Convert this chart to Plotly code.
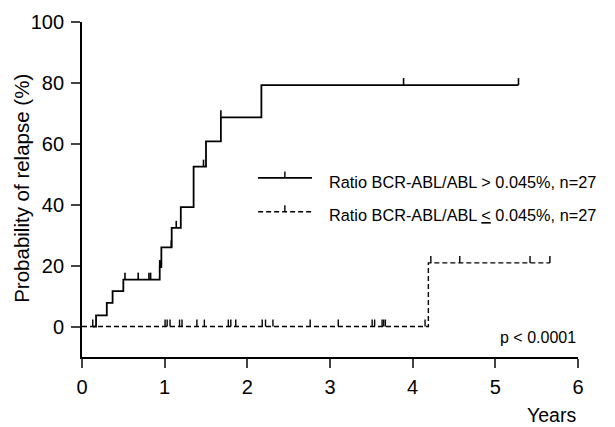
import numpy as np
import plotly.graph_objects as go

# ---- data ----
# high-ratio group (solid): step curve of cumulative relapse probability
high_t = [0.13, 0.17, 0.30, 0.37, 0.50, 0.94, 0.96, 1.085, 1.195, 1.35, 1.50, 1.68, 2.17, 5.28]
high_p = [0.0, 3.7, 7.8, 11.6, 15.4, 19.5, 26.0, 32.4, 39.2, 52.5, 60.8, 68.7, 79.3, 79.3]
high_censor = [0.52, 0.68, 0.81, 0.83, 0.94, 0.945, 1.08, 1.14, 1.47, 1.68, 3.89, 5.28]

# low-ratio group (dashed)
low_t = [0.0, 4.19, 5.66]
low_p = [0.0, 20.9, 20.9]
low_censor = [0.13, 1.005, 1.03, 1.065, 1.18, 1.21, 1.39, 1.48, 1.77, 1.80, 1.86,
              2.18, 2.22, 2.31, 2.76, 3.10, 3.51, 3.54, 3.63, 3.65, 3.67, 4.15,
              4.22, 4.57, 5.42, 5.66]

x_ticks = [0, 1, 2, 3, 4, 5, 6]
y_ticks = [0, 20, 40, 60, 80, 100]

label_high = "Ratio BCR-ABL/ABL > 0.045%, n=27"
label_low = "Ratio BCR-ABL/ABL <u>&lt;</u> 0.045%, n=27"
p_text = "p < 0.0001"

FONT = "Liberation Sans, Arial, sans-serif"
TICK_UP = 2.3  # censor tick height in data units


def level_at(ts, ps, t):
    idx = np.searchsorted(np.array(ts), np.array(t), side="right") - 1
    idx = np.clip(idx, 0, len(ps) - 1)
    return np.array(ps)[idx]


fig = go.Figure()

# curves
fig.add_trace(go.Scatter(x=high_t, y=high_p, mode="lines", line_shape="hv",
                         line=dict(color="black", width=1.8), showlegend=False,
                         hoverinfo="skip"))
fig.add_trace(go.Scatter(x=low_t, y=low_p, mode="lines", line_shape="hv",
                         line=dict(color="black", width=1.4, dash="5px,3px"),
                         showlegend=False, hoverinfo="skip"))

# censor ticks (upward ticks via error bars)
for ts, ps, cens, w in [(high_t, high_p, high_censor, 1.6), (low_t, low_p, low_censor, 1.4)]:
    lv = level_at(ts, ps, cens)
    fig.add_trace(go.Scatter(
        x=cens, y=lv, mode="markers", marker=dict(size=1, color="rgba(0,0,0,0)"),
        error_y=dict(type="data", symmetric=False, array=[TICK_UP] * len(cens),
                     arrayminus=[0] * len(cens), width=0, thickness=w, color="black"),
        showlegend=False, hoverinfo="skip"))

# ---- manual legend (paper coordinates) ----
shapes = []
annotations = []
legend_rows = [(0.535, 0.523, "solid", label_high, 1.8),
               (0.4337, 0.423, "5px,3px", label_low, 1.4)]
for ly, ty, dash, txt, lw in legend_rows:
    shapes.append(dict(type="line", xref="paper", yref="paper", x0=0.355, x1=0.4637,
                       y0=ly, y1=ly, line=dict(color="black", width=lw, dash=dash)))
    shapes.append(dict(type="line", xref="paper", yref="paper", x0=0.409, x1=0.409,
                       y0=ly, y1=ly + 0.019, line=dict(color="black", width=1.4)))
    annotations.append(dict(text=txt, xref="paper", yref="paper", x=0.494, y=ty,
                            xanchor="left", yanchor="middle", showarrow=False,
                            font=dict(family=FONT, size=16.3, color="black")))

annotations.append(dict(text=p_text, xref="x", yref="y", x=6, y=-3.6, xanchor="right",
                        yanchor="middle", showarrow=False,
                        font=dict(family=FONT, size=16, color="black")))
annotations.append(dict(text="Years", xref="paper", yref="paper", x=1.0, y=-0.172,
                        xanchor="right", yanchor="middle", showarrow=False,
                        font=dict(family=FONT, size=19.5, color="black")))
annotations.append(dict(text="Probability of relapse (%)", xref="paper", yref="paper",
                        x=-0.121, y=0.505, xanchor="center", yanchor="middle",
                        textangle=-90, showarrow=False,
                        font=dict(family=FONT, size=20.5, color="black")))

# page body has an 8px margin: shrink figure by 8px and shift margins accordingly
fig.update_layout(
    width=607, height=419,
    margin=dict(l=74, r=37, t=14, b=69.5, autoexpand=False),
    paper_bgcolor="white", plot_bgcolor="white",
    font=dict(family=FONT, color="black"),
    shapes=shapes, annotations=annotations,
    xaxis=dict(range=[0, 6], tickvals=x_ticks, ticks="outside", ticklen=9,
               tickwidth=1.5, showline=True, linecolor="black", linewidth=1.8,
               showgrid=False, zeroline=False, tickfont=dict(size=20, family=FONT),
               ticklabelstandoff=2, automargin=False),
    yaxis=dict(range=[-10, 100], tickvals=y_ticks, ticks="outside", ticklen=9,
               tickwidth=1.5, showline=True, linecolor="black", linewidth=1.8,
               showgrid=False, zeroline=False, tickfont=dict(size=20, family=FONT),
               ticklabelstandoff=3, automargin=False),
)

fig.write_html("out.html")
